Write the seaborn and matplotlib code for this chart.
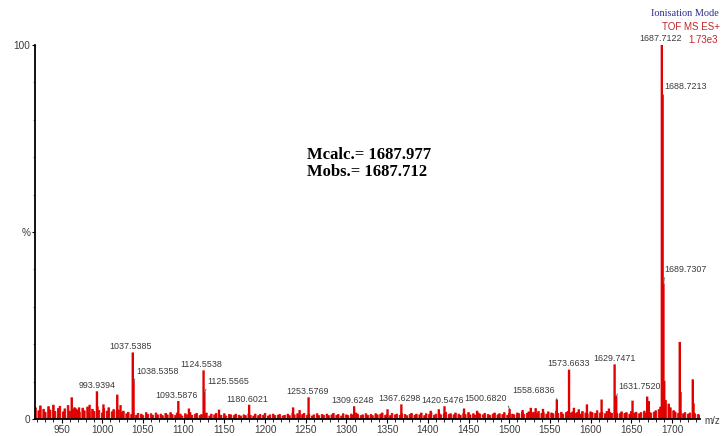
import numpy as np
import pandas as pd
import matplotlib
matplotlib.use("Agg")
import matplotlib.pyplot as plt
from matplotlib.ticker import MultipleLocator, FixedLocator, FixedFormatter
import seaborn as sns

# ---- spectrum data (m/z, relative intensity in %) ----
peak_mz = [
    993.9394, 1037.5385, 1038.5358, 1093.5876, 1124.5538, 1125.5565,
    1180.6021, 1253.5769, 1309.6248, 1367.6298, 1420.5476, 1500.6820,
    1558.6836, 1573.6633, 1629.7471, 1631.7520, 1687.7122, 1688.7213,
    1689.7307,
]
peak_int = [
    7.2, 17.6, 10.0, 4.6, 12.8, 7.0,
    3.6, 5.6, 3.2, 3.7, 3.2, 2.5,
    5.0, 13.0, 14.4, 6.0, 100.0, 86.5,
    36.0,
]

# smaller unlabelled signals
minor_mz = [
    962.0, 967.0, 971.0, 984.0, 1001.0, 1018.0, 1022.0, 1106.0, 1143.0, 1234.0,
    1242.0, 1350.0, 1403.0, 1413.0, 1444.0, 1460.0, 1516.0, 1526.0, 1532.0,
    1541.0, 1579.0, 1585.0, 1595.0, 1613.0, 1622.0, 1651.0, 1669.0, 1671.0,
    1686.7, 1690.7, 1691.7, 1702.0, 1709.7, 1710.7, 1725.7, 1726.7,
]
minor_int = [
    5.6, 2.6, 2.9, 3.6, 3.7, 6.3, 3.5, 2.6, 2.3, 2.9,
    2.2, 2.4, 2.0, 2.4, 2.6, 2.0, 2.2, 2.8, 2.7,
    2.5, 2.8, 2.4, 3.7, 5.0, 2.6, 4.7, 5.8, 4.6,
    3.0, 10.0, 4.0, 2.0, 20.4, 7.0, 10.4, 4.0,
]

# baseline chemical noise, sampled every 3 m/z from 918
noise_start, noise_step = 918, 3
noise_int = [
    3.0, 2.2, 3.5, 2.6, 1.8, 3.3, 2.4, 3.7, 2.0, 2.8, 3.4, 1.9, 2.7, 3.6, 2.1, 2.5, 3.0,
    2.4, 1.8, 2.9, 2.2, 3.2, 1.7, 2.6, 2.0, 3.3, 2.3, 1.6, 2.8, 2.1, 3.0, 1.9, 2.5, 2.2,
    2.4, 1.7, 2.1, 1.4, 1.8, 1.2, 1.6, 1.0, 1.5, 1.3, 0.9, 1.7, 1.2, 1.4, 1.0, 1.6, 1.1,
    1.3, 0.9, 1.5, 1.1, 1.7, 1.2, 1.0, 1.6, 1.3, 0.8, 1.4, 1.1, 1.7, 1.0, 1.2, 1.5, 0.9,
    1.2, 1.0, 1.6, 0.8, 1.3, 1.1, 1.5, 0.9, 1.0, 1.4, 0.8, 1.2, 1.1, 0.9, 1.3, 1.0, 0.8,
    1.1, 0.9, 1.4, 1.0, 0.8, 1.3, 0.9, 1.2, 1.0, 1.5, 0.8, 1.1, 1.3, 0.9, 1.0, 1.2, 0.8,
    1.0, 1.3, 0.9, 1.6, 1.1, 1.4, 0.9, 1.2, 1.5, 1.0, 1.3, 0.8, 1.1, 1.4, 0.9, 1.2, 1.0,
    1.3, 0.9, 1.1, 1.5, 1.0, 1.2, 0.8, 1.4, 1.1, 0.9, 1.3, 1.0, 1.6, 1.2, 0.9, 1.1, 1.4,
    1.0, 1.2, 0.9, 1.4, 1.1, 1.3, 1.6, 1.0, 1.2, 0.9, 1.5, 1.1, 1.3, 1.0, 1.4, 1.2, 0.9,
    1.2, 1.5, 1.0, 1.3, 1.1, 1.6, 0.9, 1.4, 1.2, 1.7, 1.0, 1.3, 1.5, 1.1, 1.4, 1.8, 1.2,
    1.4, 1.1, 1.6, 1.3, 1.0, 1.5, 1.2, 1.7, 1.1, 1.4, 1.0, 1.6, 1.3, 1.1, 1.5, 1.2, 1.0,
    1.3, 1.6, 1.1, 1.4, 1.2, 1.7, 1.0, 1.5, 1.3, 1.1, 1.6, 1.4, 1.8, 1.2, 1.5, 1.9, 1.6,
    1.8, 1.4, 2.0, 1.5, 1.7, 1.3, 1.9, 1.6, 1.4, 2.1, 1.5, 1.8, 1.3, 1.7, 2.0, 1.6, 1.9,
    1.5, 1.8, 1.3, 2.0, 1.6, 1.4, 1.9, 1.7, 1.5, 2.2, 1.6, 1.8, 1.4, 2.0, 1.7, 1.5, 1.9,
    1.6, 1.4, 1.9, 1.5, 1.7, 1.3, 2.0, 1.6, 1.8, 1.4, 1.7, 2.1, 1.5, 1.9, 1.6, 1.8, 2.2,
    2.5, 3.2, 4.5, 5.0, 4.0, 3.0, 2.2, 1.8, 1.5, 1.9, 1.4, 1.7, 1.3, 1.6, 1.8, 1.4, 1.2,
    1.0,
]

x_ticks = [950, 1000, 1050, 1100, 1150, 1200, 1250, 1300, 1350, 1400,
           1450, 1500, 1550, 1600, 1650, 1700]
y_ticks = [0, 50, 100]
y_tick_labels = ["0", "%", "100"]

mcalc_text = "Mcalc.= 1687.977"
mobs_text = "Mobs.= 1687.712"

# ---- layout of peak labels: (mode, dx px, dy px) ----
label_layout = {
    993.9394: ("c", 0, 2), 1037.5385: ("c", -2, 2), 1038.5358: ("r", 3, 6),
    1093.5876: ("c", -2, 2), 1124.5538: ("c", -2, 2), 1125.5565: ("r", 3, 7),
    1180.6021: ("c", -2, 2), 1253.5769: ("c", -1, 2), 1309.6248: ("c", -2, 2),
    1367.6298: ("c", -2, 2), 1420.5476: ("c", -2, 2), 1500.6820: ("l", -3, 7),
    1558.6836: ("l", -2, 5), 1573.6633: ("c", -1, 2), 1629.7471: ("c", 0, 2),
    1631.7520: ("r", 2, 6), 1687.7122: ("c", -1, 2), 1688.7213: ("r", 1, 4),
    1689.7307: ("r", 1, 10),
}

RED = "#e00000"
TXT = "#3a3a3a"
LABEL_SIZE = 6.4
TICK_SIZE = 7.2

sns.set_theme(style="ticks")
plt.rcParams["font.family"] = ["Liberation Sans", "DejaVu Sans"]

fig = plt.figure(figsize=(7.21, 4.36), dpi=100)
ax = fig.add_axes([35 / 721, 17 / 436, 665 / 721, 374 / 436])

noise_df = pd.DataFrame({
    "mz": noise_start + noise_step * np.arange(len(noise_int), dtype=float),
    "intensity": noise_int,
})
signal_df = pd.DataFrame({
    "mz": peak_mz + minor_mz,
    "intensity": peak_int + minor_int,
})

# chemical noise floor
sns.histplot(data=noise_df, x="mz", weights="intensity", binwidth=2.0,
             binrange=(917.0, 1735.0), element="bars", color=RED,
             edgecolor=RED, linewidth=0.6, alpha=1.0, snap=False, ax=ax)
# resolved peaks
sns.histplot(data=signal_df, x="mz", weights="intensity", binwidth=1.0,
             binrange=(917.0, 1735.0), element="bars", color=RED,
             edgecolor=RED, linewidth=1.1, alpha=1.0, snap=False, ax=ax)

ax.set_xlim(917.4, 1734.4)
ax.set_ylim(0, 100)
ax.set_xlabel("")
ax.set_ylabel("")

for side in ("top", "right"):
    ax.spines[side].set_visible(False)
for side in ("left", "bottom"):
    ax.spines[side].set_color("black")
    ax.spines[side].set_linewidth(1.3)
    ax.spines[side].set_zorder(5)

ax.xaxis.set_major_locator(FixedLocator(x_ticks))
ax.xaxis.set_minor_locator(MultipleLocator(10))
ax.yaxis.set_major_locator(FixedLocator(y_ticks))
ax.yaxis.set_major_formatter(FixedFormatter(y_tick_labels))
ax.yaxis.set_minor_locator(MultipleLocator(10))
ax.tick_params(axis="x", which="major", direction="out", length=3, width=0.8,
               pad=1.5, labelsize=TICK_SIZE, labelcolor=TXT, color="black")
ax.tick_params(axis="x", which="minor", direction="out", length=2, width=0.6,
               color="black")
ax.tick_params(axis="y", which="major", direction="out", length=2.5, width=0.8,
               pad=1, labelsize=TICK_SIZE, labelcolor=TXT, color="black")
ax.tick_params(axis="y", which="minor", direction="out", length=1.2, width=0.6,
               color="#777777")

# peak annotations
for mz, h in zip(peak_mz, peak_int):
    mode, dx, dy = label_layout[mz]
    txt = f"{mz:.4f}"
    if mode == "c":
        ax.annotate(txt, xy=(mz, h), xytext=(dx, dy), textcoords="offset pixels",
                    ha="center", va="bottom", fontsize=LABEL_SIZE, color=TXT,
                    annotation_clip=False)
    else:
        ha = "left" if mode == "r" else "right"
        rel = (0.0, 0.0) if mode == "r" else (1.0, 0.0)
        ax.annotate(txt, xy=(mz, h), xytext=(dx, dy), textcoords="offset pixels",
                    ha=ha, va="bottom", fontsize=LABEL_SIZE, color=TXT,
                    annotation_clip=False,
                    arrowprops=dict(arrowstyle="-", color="#555555", lw=0.6,
                                    shrinkA=0, shrinkB=0, relpos=rel))

# header and axis caption
fig.text(651 / 721, 1 - 13 / 436, "Ionisation Mode", family=["Liberation Serif", "DejaVu Serif"],
         fontsize=7.4, color="#2c2c8c", ha="left", va="center")
fig.text(662 / 721, 1 - 27 / 436, "TOF MS ES+", fontsize=7, color="#c02828",
         ha="left", va="center")
fig.text(688 / 721, 1 - 40 / 436, "1.73e3", fontsize=7, color="#c02828",
         ha="left", va="center")
fig.text(704 / 721, 1 - 421 / 436, "m/z", fontsize=7, color=TXT,
         ha="left", va="center")

# mass comparison
serif_bold = dict(family=["Liberation Serif", "DejaVu Serif"], fontweight="bold",
                  fontsize=12, color="black", ha="left", va="center")
fig.text(307 / 721, 1 - 155 / 436, mcalc_text, **serif_bold)
fig.text(307 / 721, 1 - 172 / 436, mobs_text, **serif_bold)

fig.savefig("out.png", dpi=100, facecolor="white")
